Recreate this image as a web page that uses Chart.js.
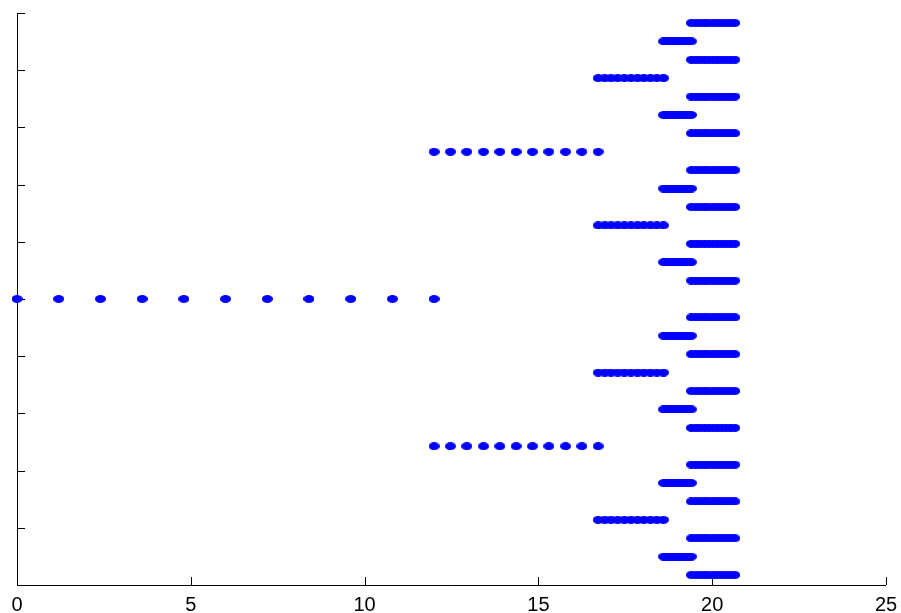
<!DOCTYPE html>
<html>
<head>
<meta charset="utf-8">
<script src="https://cdn.jsdelivr.net/npm/chart.js@4/dist/chart.umd.min.js"></script>
<style>
  html, body { margin: 0; padding: 0; background: #fff; }
  #chart { display: block; }
</style>
</head>
<body>
<canvas id="chart" width="901" height="613"></canvas>
<script>
// x positions of the dots on each level of the tree
const level1X = [0, 1.2, 2.4, 3.6, 4.8, 6.0, 7.2, 8.4, 9.6, 10.8, 12.0];
const level2X = [12.0, 12.47, 12.94, 13.42, 13.89, 14.36, 14.83, 15.30, 15.78, 16.25, 16.72];
const level3X = [16.72, 16.91, 17.09, 17.28, 17.47, 17.66, 17.85, 18.03, 18.22, 18.41, 18.60];
const level4X = [18.60, 18.68, 18.76, 18.84, 18.92, 19.00, 19.08, 19.16, 19.24, 19.32, 19.40];
const level5X = [19.40, 19.53, 19.65, 19.78, 19.90, 20.03, 20.15, 20.28, 20.40, 20.53, 20.65];

// row heights of each level (in row units)
const level1Y = [0];
const level2Y = [4, -4];
const level3Y = [6, 2, -2, -6];
const level4Y = [7, 5, 3, 1, -1, -3, -5, -7];
const level5Y = [7.5, 6.5, 5.5, 4.5, 3.5, 2.5, 1.5, 0.5, -0.5, -1.5, -2.5, -3.5, -4.5, -5.5, -6.5, -7.5];

// axis ticks
const xTicks = [0, 5, 10, 15, 20, 25];
const yTicks = [-7.77, -6.22, -4.66, -3.11, -1.55, 0, 1.55, 3.11, 4.66, 6.22, 7.77];

const levels = [
    [level1X, level1Y],
    [level2X, level2Y],
    [level3X, level3Y],
    [level4X, level4Y],
    [level5X, level5Y],
];

// slightly flattened dot like the matlab marker
function makeDot() {
    const c = document.createElement('canvas');
    c.width = 11;
    c.height = 8;
    const g = c.getContext('2d');
    g.fillStyle = '#0000ff';
    g.beginPath();
    g.ellipse(5.5, 4, 5.5, 4, 0, 0, Math.PI * 2);
    g.fill();
    return c;
}
const dot = makeDot();

const datasets = levels.map(([xs, ys], i) => {
    const pts = [];
    ys.forEach(y => xs.forEach(x => pts.push({ x: x, y: y })));
    return {
        label: 'level ' + (i + 1),
        data: pts,
        pointStyle: dot,
        pointRadius: 5,
        showLine: false,
        clip: false,
    };
});

// matlab style axes: left + bottom lines with inward ticks
const axesPlugin = {
    id: 'axesPlugin',
    beforeDatasetsDraw(chart) {
        const ctx = chart.ctx;
        const xs = chart.scales.x;
        const ys = chart.scales.y;
        const a = chart.chartArea;
        ctx.save();
        ctx.lineWidth = 1;
        ctx.strokeStyle = '#000';
        ctx.beginPath();
        ctx.moveTo(a.left + 0.5, a.top);
        ctx.lineTo(a.left + 0.5, a.bottom);
        ctx.moveTo(a.left, a.bottom + 0.5);
        ctx.lineTo(a.right, a.bottom + 0.5);
        xTicks.forEach(v => {
            const px = Math.round(xs.getPixelForValue(v)) + 0.5;
            ctx.moveTo(px, a.bottom);
            ctx.lineTo(px, a.bottom - 8);
        });
        yTicks.forEach(v => {
            const py = Math.round(ys.getPixelForValue(v)) + 0.5;
            ctx.moveTo(a.left, py);
            ctx.lineTo(a.left + 8, py);
        });
        ctx.stroke();
        ctx.restore();
    }
};

new Chart(document.getElementById('chart'), {
    type: 'scatter',
    data: { datasets: datasets },
    options: {
        responsive: false,
        animation: false,
        devicePixelRatio: 1,
        layout: {
            padding: { left: 17, top: 13, right: 15, bottom: -4 }
        },
        plugins: {
            legend: { display: false },
            tooltip: { enabled: false },
        },
        scales: {
            x: {
                type: 'linear',
                min: 0,
                max: 25,
                afterBuildTicks: (scale) => {
                    scale.ticks = xTicks.map(v => ({ value: v }));
                },
                ticks: {
                    color: '#000',
                    padding: 2,
                    font: { family: "'Liberation Sans', Arial, sans-serif", size: 20, lineHeight: 1 },
                    maxRotation: 0,
                },
                grid: { display: false },
                border: { display: false },
            },
            y: {
                type: 'linear',
                min: -7.77,
                max: 7.77,
                display: false,
            }
        }
    },
    plugins: [axesPlugin],
});
</script>
</body>
</html>
